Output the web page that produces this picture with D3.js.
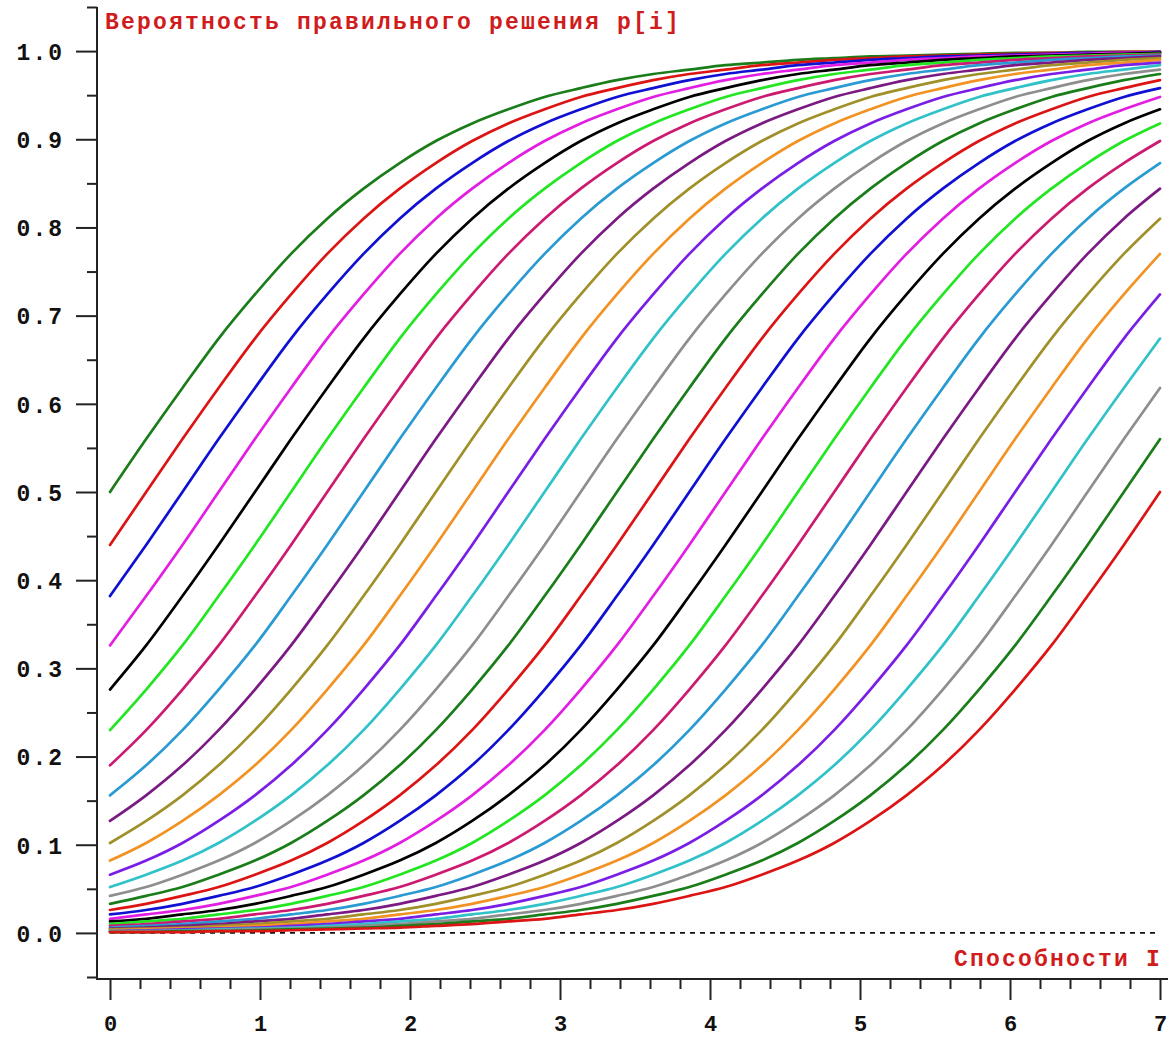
<!DOCTYPE html>
<html>
<head>
<meta charset="utf-8">
<script src="https://cdn.jsdelivr.net/npm/d3@7"></script>
<style>
  html, body { margin: 0; padding: 0; background: #ffffff; }
  svg { display: block; }
</style>
</head>
<body>
<script>
// ---------- DATA ----------
const abilityGrid = [0.000,0.241,0.483,0.724,0.966,1.207,1.448,1.690,1.931,2.172,2.414,2.655,2.897,3.138,3.379,3.621,3.862,4.103,4.345,4.586,4.828,5.069,5.310,5.552,5.793,6.034,6.276,6.517,6.759,7.000];

const curve01 = [0.500,0.560,0.618,0.674,0.724,0.770,0.810,0.844,0.873,0.898,0.918,0.934,0.948,0.958,0.967,0.974,0.979,0.984,0.987,0.990,0.992,0.994,0.995,0.996,0.997,0.998,0.998,0.999,0.999,0.999];
const curve02 = [0.440,0.500,0.560,0.618,0.674,0.724,0.770,0.810,0.844,0.873,0.898,0.918,0.934,0.948,0.958,0.967,0.974,0.979,0.984,0.987,0.990,0.992,0.994,0.995,0.996,0.997,0.998,0.998,0.999,0.999];
const curve03 = [0.382,0.440,0.500,0.560,0.618,0.674,0.724,0.770,0.810,0.844,0.873,0.898,0.918,0.934,0.948,0.958,0.967,0.974,0.979,0.984,0.987,0.990,0.992,0.994,0.995,0.996,0.997,0.998,0.998,0.999];
const curve04 = [0.326,0.382,0.440,0.500,0.560,0.618,0.674,0.724,0.770,0.810,0.844,0.873,0.898,0.918,0.934,0.948,0.958,0.967,0.974,0.979,0.984,0.987,0.990,0.992,0.994,0.995,0.996,0.997,0.998,0.998];
const curve05 = [0.276,0.326,0.382,0.440,0.500,0.560,0.618,0.674,0.724,0.770,0.810,0.844,0.873,0.898,0.918,0.934,0.948,0.958,0.967,0.974,0.979,0.984,0.987,0.990,0.992,0.994,0.995,0.996,0.997,0.998];
const curve06 = [0.230,0.276,0.326,0.382,0.440,0.500,0.560,0.618,0.674,0.724,0.770,0.810,0.844,0.873,0.898,0.918,0.934,0.948,0.958,0.967,0.974,0.979,0.984,0.987,0.990,0.992,0.994,0.995,0.996,0.997];
const curve07 = [0.190,0.230,0.276,0.326,0.382,0.440,0.500,0.560,0.618,0.674,0.724,0.770,0.810,0.844,0.873,0.898,0.918,0.934,0.948,0.958,0.967,0.974,0.979,0.984,0.987,0.990,0.992,0.994,0.995,0.996];
const curve08 = [0.156,0.190,0.230,0.276,0.326,0.382,0.440,0.500,0.560,0.618,0.674,0.724,0.770,0.810,0.844,0.873,0.898,0.918,0.934,0.948,0.958,0.967,0.974,0.979,0.984,0.987,0.990,0.992,0.994,0.995];
const curve09 = [0.127,0.156,0.190,0.230,0.276,0.326,0.382,0.440,0.500,0.560,0.618,0.674,0.724,0.770,0.810,0.844,0.873,0.898,0.918,0.934,0.948,0.958,0.967,0.974,0.979,0.984,0.987,0.990,0.992,0.994];
const curve10 = [0.102,0.127,0.156,0.190,0.230,0.276,0.326,0.382,0.440,0.500,0.560,0.618,0.674,0.724,0.770,0.810,0.844,0.873,0.898,0.918,0.934,0.948,0.958,0.967,0.974,0.979,0.984,0.987,0.990,0.992];
const curve11 = [0.082,0.102,0.127,0.156,0.190,0.230,0.276,0.326,0.382,0.440,0.500,0.560,0.618,0.674,0.724,0.770,0.810,0.844,0.873,0.898,0.918,0.934,0.948,0.958,0.967,0.974,0.979,0.984,0.987,0.990];
const curve12 = [0.066,0.082,0.102,0.127,0.156,0.190,0.230,0.276,0.326,0.382,0.440,0.500,0.560,0.618,0.674,0.724,0.770,0.810,0.844,0.873,0.898,0.918,0.934,0.948,0.958,0.967,0.974,0.979,0.984,0.987];
const curve13 = [0.052,0.066,0.082,0.102,0.127,0.156,0.190,0.230,0.276,0.326,0.382,0.440,0.500,0.560,0.618,0.674,0.724,0.770,0.810,0.844,0.873,0.898,0.918,0.934,0.948,0.958,0.967,0.974,0.979,0.984];
const curve14 = [0.042,0.052,0.066,0.082,0.102,0.127,0.156,0.190,0.230,0.276,0.326,0.382,0.440,0.500,0.560,0.618,0.674,0.724,0.770,0.810,0.844,0.873,0.898,0.918,0.934,0.948,0.958,0.967,0.974,0.979];
const curve15 = [0.033,0.042,0.052,0.066,0.082,0.102,0.127,0.156,0.190,0.230,0.276,0.326,0.382,0.440,0.500,0.560,0.618,0.674,0.724,0.770,0.810,0.844,0.873,0.898,0.918,0.934,0.948,0.958,0.967,0.974];
const curve16 = [0.026,0.033,0.042,0.052,0.066,0.082,0.102,0.127,0.156,0.190,0.230,0.276,0.326,0.382,0.440,0.500,0.560,0.618,0.674,0.724,0.770,0.810,0.844,0.873,0.898,0.918,0.934,0.948,0.958,0.967];
const curve17 = [0.021,0.026,0.033,0.042,0.052,0.066,0.082,0.102,0.127,0.156,0.190,0.230,0.276,0.326,0.382,0.440,0.500,0.560,0.618,0.674,0.724,0.770,0.810,0.844,0.873,0.898,0.918,0.934,0.948,0.958];
const curve18 = [0.016,0.021,0.026,0.033,0.042,0.052,0.066,0.082,0.102,0.127,0.156,0.190,0.230,0.276,0.326,0.382,0.440,0.500,0.560,0.618,0.674,0.724,0.770,0.810,0.844,0.873,0.898,0.918,0.934,0.948];
const curve19 = [0.013,0.016,0.021,0.026,0.033,0.042,0.052,0.066,0.082,0.102,0.127,0.156,0.190,0.230,0.276,0.326,0.382,0.440,0.500,0.560,0.618,0.674,0.724,0.770,0.810,0.844,0.873,0.898,0.918,0.934];
const curve20 = [0.010,0.013,0.016,0.021,0.026,0.033,0.042,0.052,0.066,0.082,0.102,0.127,0.156,0.190,0.230,0.276,0.326,0.382,0.440,0.500,0.560,0.618,0.674,0.724,0.770,0.810,0.844,0.873,0.898,0.918];
const curve21 = [0.008,0.010,0.013,0.016,0.021,0.026,0.033,0.042,0.052,0.066,0.082,0.102,0.127,0.156,0.190,0.230,0.276,0.326,0.382,0.440,0.500,0.560,0.618,0.674,0.724,0.770,0.810,0.844,0.873,0.898];
const curve22 = [0.006,0.008,0.010,0.013,0.016,0.021,0.026,0.033,0.042,0.052,0.066,0.082,0.102,0.127,0.156,0.190,0.230,0.276,0.326,0.382,0.440,0.500,0.560,0.618,0.674,0.724,0.770,0.810,0.844,0.873];
const curve23 = [0.005,0.006,0.008,0.010,0.013,0.016,0.021,0.026,0.033,0.042,0.052,0.066,0.082,0.102,0.127,0.156,0.190,0.230,0.276,0.326,0.382,0.440,0.500,0.560,0.618,0.674,0.724,0.770,0.810,0.844];
const curve24 = [0.004,0.005,0.006,0.008,0.010,0.013,0.016,0.021,0.026,0.033,0.042,0.052,0.066,0.082,0.102,0.127,0.156,0.190,0.230,0.276,0.326,0.382,0.440,0.500,0.560,0.618,0.674,0.724,0.770,0.810];
const curve25 = [0.003,0.004,0.005,0.006,0.008,0.010,0.013,0.016,0.021,0.026,0.033,0.042,0.052,0.066,0.082,0.102,0.127,0.156,0.190,0.230,0.276,0.326,0.382,0.440,0.500,0.560,0.618,0.674,0.724,0.770];
const curve26 = [0.002,0.003,0.004,0.005,0.006,0.008,0.010,0.013,0.016,0.021,0.026,0.033,0.042,0.052,0.066,0.082,0.102,0.127,0.156,0.190,0.230,0.276,0.326,0.382,0.440,0.500,0.560,0.618,0.674,0.724];
const curve27 = [0.002,0.002,0.003,0.004,0.005,0.006,0.008,0.010,0.013,0.016,0.021,0.026,0.033,0.042,0.052,0.066,0.082,0.102,0.127,0.156,0.190,0.230,0.276,0.326,0.382,0.440,0.500,0.560,0.618,0.674];
const curve28 = [0.001,0.002,0.002,0.003,0.004,0.005,0.006,0.008,0.010,0.013,0.016,0.021,0.026,0.033,0.042,0.052,0.066,0.082,0.102,0.127,0.156,0.190,0.230,0.276,0.326,0.382,0.440,0.500,0.560,0.618];
const curve29 = [0.001,0.001,0.002,0.002,0.003,0.004,0.005,0.006,0.008,0.010,0.013,0.016,0.021,0.026,0.033,0.042,0.052,0.066,0.082,0.102,0.127,0.156,0.190,0.230,0.276,0.326,0.382,0.440,0.500,0.560];
const curve30 = [0.001,0.001,0.001,0.002,0.002,0.003,0.004,0.005,0.006,0.008,0.010,0.013,0.016,0.021,0.026,0.033,0.042,0.052,0.066,0.082,0.102,0.127,0.156,0.190,0.230,0.276,0.326,0.382,0.440,0.500];

const curveColors = ["#1a7d1a","#dc1414","#1010d2","#e21ee2","#000000","#22e622","#cc1a70","#2a9ad2","#7a1a82","#a0902a","#f29222","#7a1ee6","#30c2c8","#8e8e8e"];

const yMajorTicks = [0.0,0.1,0.2,0.3,0.4,0.5,0.6,0.7,0.8,0.9,1.0];
const yMinorTicks = [-0.05,0.05,0.15,0.25,0.35,0.45,0.55,0.65,0.75,0.85,0.95,1.05];
const xMajorTicks = [0,1,2,3,4,5,6,7];
const xMinorTicks = [0.2,0.4,0.6,0.8,1.2,1.4,1.6,1.8,2.2,2.4,2.6,2.8,3.2,3.4,3.6,3.8,4.2,4.4,4.6,4.8,5.2,5.4,5.6,5.8,6.2,6.4,6.6,6.8];

const yTitle = "Вероятность правильного решения p[i]";
const xTitle = "Способности I";

// ---------- DRAWING ----------
const curves = [curve01,curve02,curve03,curve04,curve05,curve06,curve07,curve08,curve09,curve10,
                curve11,curve12,curve13,curve14,curve15,curve16,curve17,curve18,curve19,curve20,
                curve21,curve22,curve23,curve24,curve25,curve26,curve27,curve28,curve29,curve30];

const W = 1171, H = 1039;
const FONT = "'Courier New', 'Liberation Mono', monospace";
const svg = d3.select("body").append("svg").attr("width", W).attr("height", H);
svg.append("rect").attr("width", W).attr("height", H).attr("fill", "#ffffff");

const x = d3.scaleLinear().domain([0, 7]).range([110, 1160]);
const y = d3.scaleLinear().domain([-0.05, 1.05]).range([977, 7]);

const axisX0 = 97;   // position of the vertical axis line
const axisY0 = 979;  // position of the horizontal axis line

// dashed zero line
svg.append("line")
  .attr("x1", x(0)).attr("x2", x(7))
  .attr("y1", y(0)).attr("y2", y(0))
  .attr("stroke", "#111").attr("stroke-width", 1.6)
  .attr("stroke-dasharray", "5,5");

// curves
const line = d3.line()
  .x((d, i) => x(abilityGrid[i]))
  .y(d => y(d))
  .curve(d3.curveMonotoneX);

svg.append("g").selectAll("path")
  .data(curves)
  .join("path")
  .attr("d", d => line(d))
  .attr("fill", "none")
  .attr("stroke", (d, i) => curveColors[i % curveColors.length])
  .attr("stroke-width", 2.7)
  .attr("stroke-linejoin", "round")
  .attr("stroke-linecap", "round");

// ---- Y axis ----
const gyMinor = svg.append("g").attr("transform", `translate(${axisX0},0)`)
  .call(d3.axisLeft(y).tickValues(yMinorTicks).tickSize(10).tickSizeOuter(0).tickFormat(""));
const gyMajor = svg.append("g").attr("transform", `translate(${axisX0},0)`)
  .call(d3.axisLeft(y).tickValues(yMajorTicks).tickSize(21).tickSizeOuter(0).tickFormat(d3.format(".1f")));
[gyMinor, gyMajor].forEach(g => {
  g.select(".domain").remove();
  g.selectAll(".tick line").attr("stroke", "#222").attr("stroke-width", 2);
});
gyMajor.selectAll(".tick text")
  .attr("x", -33).attr("dy", "0.36em")
  .attr("text-anchor", "end")
  .attr("fill", "#111")
  .style("font-family", FONT).style("font-weight", "bold")
  .style("font-size", "23px").style("letter-spacing", "2px");

svg.append("line")
  .attr("x1", axisX0).attr("x2", axisX0)
  .attr("y1", y(1.05)).attr("y2", axisY0 + 1)
  .attr("stroke", "#222").attr("stroke-width", 2);

// ---- X axis ----
const gxMinor = svg.append("g").attr("transform", `translate(0,${axisY0})`)
  .call(d3.axisBottom(x).tickValues(xMinorTicks).tickSize(10).tickSizeOuter(0).tickFormat(""));
const gxMajor = svg.append("g").attr("transform", `translate(0,${axisY0})`)
  .call(d3.axisBottom(x).tickValues(xMajorTicks).tickSize(21).tickSizeOuter(0).tickFormat(d3.format("d")));
[gxMinor, gxMajor].forEach(g => {
  g.select(".domain").remove();
  g.selectAll(".tick line").attr("stroke", "#222").attr("stroke-width", 2);
});
gxMajor.selectAll(".tick text")
  .attr("y", 52).attr("dy", null)
  .attr("text-anchor", "middle")
  .attr("fill", "#111")
  .style("font-family", FONT).style("font-weight", "bold")
  .style("font-size", "22px");

svg.append("line")
  .attr("x1", axisX0 - 1).attr("x2", 1168)
  .attr("y1", axisY0).attr("y2", axisY0)
  .attr("stroke", "#222").attr("stroke-width", 2);

// ---- titles ----
svg.append("text")
  .attr("x", 105).attr("y", 29)
  .attr("fill", "#d01c1c")
  .style("font-family", FONT).style("font-weight", "bold")
  .style("font-size", "23px").style("letter-spacing", "2.2px")
  .text(yTitle);

svg.append("text")
  .attr("x", 1162).attr("y", 966)
  .attr("text-anchor", "end")
  .attr("fill", "#d01c1c")
  .style("font-family", FONT).style("font-weight", "bold")
  .style("font-size", "23px").style("letter-spacing", "2.2px")
  .text(xTitle);
</script>
</body>
</html>
